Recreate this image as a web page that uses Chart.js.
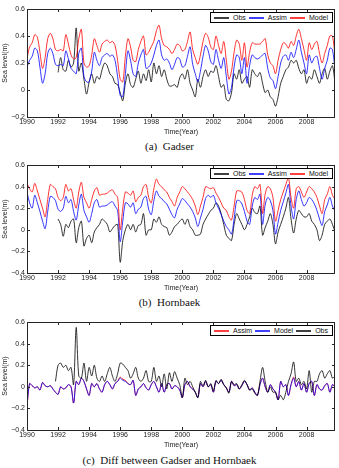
<!DOCTYPE html>
<html>
<head>
<meta charset="utf-8">
<script src="https://cdn.jsdelivr.net/npm/chart.js@4.4.1/dist/chart.umd.min.js"></script>
<style>
body { margin: 0; width: 339px; height: 468px; position: relative; background: #fff; overflow: hidden; }
canvas { position: absolute; left: 0; }
.caption { position: absolute; left: 0; width: 339px; text-align: center; font-family: 'Liberation Serif', serif; font-size: 11px; line-height: 12px; color: #111; }
.legend { position: absolute; right: 6px; height: 9px; padding: 0 1px 0 3px; border: 1px solid #000; background: #fff;
    font-family: 'Liberation Sans', Arial, sans-serif; font-size: 7px; line-height: 9px; color: #111; white-space: nowrap; }
.legend .item { display: inline-block; margin-right: 3px; }
.legend .swatch { display: inline-block; width: 15px; height: 2px; margin-right: 4px; vertical-align: middle; opacity: 0.75; }
</style>
</head>
<body>
<canvas id="gadser-chart" width="339" height="136" style="top:0px"></canvas>
<div class="legend" id="gadser-legend" style="top:12px"></div>
<div class="caption" style="top:140px">(a)&nbsp; Gadser</div>
<canvas id="hornbaek-chart" width="339" height="136" style="top:156px"></canvas>
<div class="legend" id="hornbaek-legend" style="top:168px"></div>
<div class="caption" style="top:296px">(b)&nbsp; Hornbaek</div>
<canvas id="diff-chart" width="339" height="136" style="top:313px"></canvas>
<div class="legend" id="diff-legend" style="top:325px"></div>
<div class="caption" style="top:454px">(c)&nbsp; Diff between Gadser and Hornbaek</div>
<script>
// two-monthly values, 1990.0 ... 2009.83 (6 per year)
const startYear = 1990;
const stepYear = 1 / 6;
const xTicks = [1990, 1992, 1994, 1996, 1998, 2000, 2002, 2004, 2006, 2008];

const gadserObs = [
    null, null, null, null, null, null,
    null, null, null, null, null, null,
    0.13, 0.24, 0.15, 0.14, 0.22, 0.17,
    0.20, 0.46, 0.14, 0.20, 0.08, -0.03,
    0.06, 0.12, 0.05, 0.10, 0.08, 0.15,
    0.20, 0.18, 0.12, 0.10, 0.05, 0.04,
    -0.02, -0.08, 0.05, 0.12, 0.04, 0.02,
    0.08, 0.14, 0.05, 0.12, 0.07, 0.15,
    0.06, 0.20, 0.12, 0.18, 0.10, 0.15,
    0.08, 0.03, 0.03, 0.04, 0.02, 0.09,
    0.12, 0.08, 0.15, 0.05, 0.00, -0.05,
    0.08, 0.02, 0.10, 0.15, 0.10, 0.14,
    0.13, 0.18, 0.10, 0.02, 0.04, -0.07,
    -0.08, -0.02, 0.12, 0.08, 0.15, 0.05,
    0.08, 0.10, 0.02, 0.15, 0.12, 0.10,
    0.13, 0.05, -0.02, 0.00, -0.05, -0.07,
    -0.12, -0.05, 0.05, 0.10, 0.15, 0.17,
    0.22, 0.20, 0.22, 0.16, 0.12, 0.15,
    0.05, 0.10, 0.08, 0.15, 0.10, 0.05,
    0.12, 0.16, 0.08, 0.14, 0.18, 0.05
];
const gadserAssim = [
    0.17, 0.22, 0.25, 0.31, 0.29, 0.17,
    0.05, 0.12, 0.27, 0.31, 0.27, 0.19,
    0.18, 0.19, 0.18, 0.29, 0.23, 0.16,
    0.14, 0.12, 0.27, 0.31, 0.10, 0.06,
    0.06, 0.14, 0.28, 0.22, 0.18, 0.24,
    0.26, 0.27, 0.25, 0.26, 0.22, 0.10,
    -0.04, -0.05, 0.12, 0.29, 0.22, 0.12,
    0.10, 0.20, 0.26, 0.30, 0.16, 0.17,
    0.20, 0.26, 0.33, 0.37, 0.26, 0.22,
    0.23, 0.20, 0.15, 0.19, 0.24, 0.23,
    0.17, 0.18, 0.25, 0.32, 0.19, 0.12,
    0.06, 0.14, 0.25, 0.33, 0.29, 0.21,
    0.19, 0.30, 0.22, 0.16, 0.24, 0.10,
    -0.03, 0.02, 0.17, 0.26, 0.24, 0.12,
    0.24, 0.05, 0.18, 0.26, 0.24, 0.23,
    0.24, 0.26, 0.27, 0.16, 0.09, 0.07,
    0.01, 0.10, 0.20, 0.25, 0.26, 0.22,
    0.28, 0.24, 0.30, 0.37, 0.28, 0.20,
    0.12, 0.26, 0.20, 0.24, 0.25, 0.16,
    0.08, 0.16, 0.22, 0.31, 0.30, 0.14
];
const gadserModel = [
    0.23, 0.32, 0.35, 0.41, 0.39, 0.28,
    0.16, 0.24, 0.38, 0.42, 0.38, 0.30,
    0.29, 0.30, 0.29, 0.41, 0.34, 0.26,
    0.23, 0.24, 0.38, 0.45, 0.20, 0.17,
    0.18, 0.26, 0.38, 0.33, 0.28, 0.34,
    0.36, 0.37, 0.35, 0.36, 0.33, 0.22,
    0.08, 0.06, 0.25, 0.38, 0.32, 0.22,
    0.21, 0.30, 0.36, 0.40, 0.26, 0.28,
    0.32, 0.36, 0.44, 0.48, 0.38, 0.33,
    0.32, 0.30, 0.27, 0.30, 0.34, 0.33,
    0.29, 0.30, 0.36, 0.43, 0.30, 0.24,
    0.19, 0.26, 0.36, 0.42, 0.39, 0.32,
    0.30, 0.40, 0.33, 0.27, 0.36, 0.22,
    0.08, 0.14, 0.28, 0.37, 0.34, 0.22,
    0.35, 0.17, 0.28, 0.35, 0.34, 0.34,
    0.34, 0.36, 0.38, 0.26, 0.20, 0.18,
    0.12, 0.22, 0.30, 0.35, 0.34, 0.31,
    0.36, 0.33, 0.40, 0.45, 0.38, 0.30,
    0.22, 0.35, 0.30, 0.34, 0.36, 0.27,
    0.20, 0.27, 0.33, 0.40, 0.40, 0.25
];

const hornbaekObs = [
    null, null, null, null, null, null,
    null, null, null, null, null, null,
    0.10, 0.05, -0.06, 0.05, 0.02, 0.08,
    0.10, -0.12, 0.02, 0.08, -0.15, -0.08,
    -0.05, -0.12, -0.02, 0.02, 0.05, 0.10,
    0.08, 0.05, -0.02, 0.01, 0.04, 0.05,
    -0.30, -0.10, 0.00, 0.05, 0.00, 0.05,
    -0.02, 0.04, 0.05, 0.15, -0.05, 0.00,
    0.00, 0.10, 0.07, 0.12, 0.05, 0.03,
    0.02, -0.05, -0.02, 0.03, 0.05, 0.08,
    0.10, 0.05, 0.10, 0.03, 0.00, -0.05,
    -0.05, -0.04, 0.05, 0.10, 0.14, 0.18,
    0.20, 0.25, 0.22, 0.15, 0.05, -0.05,
    -0.08, -0.10, 0.05, 0.15, 0.10, 0.05,
    0.00, 0.05, 0.12, 0.20, 0.16, 0.15,
    0.22, -0.05, 0.02, 0.08, 0.15, 0.05,
    -0.13, -0.02, 0.05, 0.12, 0.20, 0.30,
    0.10, -0.03, 0.10, 0.18, 0.15, 0.12,
    0.12, 0.15, 0.08, 0.05, 0.00, -0.10,
    -0.05, 0.05, 0.08, 0.10, 0.05, -0.02
];
const hornbaekAssim = [
    0.35, 0.25, 0.20, 0.32, 0.25, 0.17,
    0.08, 0.01, 0.17, 0.31, 0.30, 0.27,
    0.19, 0.17, 0.20, 0.31, 0.25, 0.28,
    0.17, 0.09, 0.23, 0.33, 0.18, 0.12,
    0.07, 0.15, 0.25, 0.28, 0.21, 0.22,
    0.22, 0.23, 0.25, 0.26, 0.22, 0.18,
    -0.11, 0.08, 0.25, 0.24, 0.21, 0.25,
    0.15, 0.19, 0.21, 0.29, 0.31, 0.19,
    0.14, 0.27, 0.36, 0.31, 0.29, 0.26,
    0.24, 0.19, 0.14, 0.11, 0.19, 0.24,
    0.29, 0.27, 0.24, 0.21, 0.17, 0.11,
    0.03, 0.11, 0.19, 0.29, 0.32, 0.30,
    0.32, 0.25, 0.20, 0.14, 0.08, 0.03,
    0.00, -0.04, 0.10, 0.27, 0.27, 0.24,
    0.17, 0.08, 0.05, 0.22, 0.30, 0.28,
    0.33, 0.05, 0.23, 0.30, 0.27, 0.18,
    -0.04, 0.07, 0.18, 0.26, 0.34, 0.42,
    0.22, 0.10, 0.28, 0.36, 0.28, 0.22,
    0.25, 0.30, 0.28, 0.24, 0.18, 0.10,
    0.04, 0.17, 0.23, 0.30, 0.22, 0.17
];
const hornbaekModel = [
    0.43, 0.38, 0.35, 0.43, 0.36, 0.28,
    0.20, 0.12, 0.28, 0.42, 0.40, 0.38,
    0.30, 0.27, 0.30, 0.42, 0.36, 0.38,
    0.28, 0.20, 0.35, 0.44, 0.30, 0.25,
    0.20, 0.28, 0.36, 0.39, 0.32, 0.33,
    0.33, 0.34, 0.36, 0.37, 0.33, 0.30,
    0.00, 0.20, 0.35, 0.34, 0.32, 0.36,
    0.26, 0.30, 0.32, 0.40, 0.42, 0.30,
    0.25, 0.38, 0.47, 0.42, 0.40, 0.37,
    0.35, 0.30, 0.26, 0.22, 0.30, 0.35,
    0.40, 0.38, 0.35, 0.32, 0.28, 0.22,
    0.14, 0.22, 0.30, 0.40, 0.39, 0.38,
    0.39, 0.34, 0.30, 0.25, 0.20, 0.18,
    0.12, 0.09, 0.22, 0.36, 0.36, 0.35,
    0.28, 0.18, 0.15, 0.32, 0.40, 0.38,
    0.42, 0.15, 0.33, 0.40, 0.38, 0.30,
    0.08, 0.18, 0.28, 0.35, 0.42, 0.48,
    0.30, 0.20, 0.38, 0.40, 0.35, 0.30,
    0.35, 0.40, 0.38, 0.35, 0.30, 0.22,
    0.15, 0.28, 0.33, 0.40, 0.32, 0.28
];

const diffAssim = [
    -0.18, 0.03, 0.01, -0.01, 0.00, -0.03,
    0.04, 0.01, 0.00, 0.01, -0.02, -0.05,
    -0.07, 0.00, -0.02, -0.01, 0.02, 0.00,
    -0.15, 0.05, 0.02, 0.08, 0.05, -0.02,
    -0.08, 0.03, 0.00, 0.03, -0.02, -0.05,
    0.02, 0.05, 0.02, -0.02, 0.03, 0.05,
    0.09, 0.07, 0.06, 0.03, 0.02, 0.06,
    -0.08, -0.02, 0.00, 0.03, -0.01, -0.03,
    0.02, 0.05, 0.00, -0.05, 0.03, -0.05,
    0.02, 0.03, -0.02, 0.01, 0.00, -0.03,
    -0.10, 0.02, 0.05, 0.00, -0.02, -0.05,
    -0.10, 0.03, 0.00, 0.05, 0.00, 0.02,
    -0.05, 0.05, 0.03, 0.06, 0.02, -0.01,
    -0.05, 0.05, 0.01, 0.02, -0.02, 0.01,
    0.05, 0.02, -0.03, -0.01, -0.05, -0.08,
    0.02, 0.08, 0.00, -0.05, 0.02, -0.02,
    -0.05, -0.12, 0.05, 0.00, 0.02, -0.08,
    0.02, 0.09, 0.00, 0.05, -0.03, 0.03,
    -0.05, 0.03, 0.05, -0.08, 0.02, -0.02,
    -0.03, 0.01, 0.03, -0.05, 0.02, 0.00
];
const diffModel = [
    -0.18, 0.03, 0.01, -0.01, 0.00, -0.03,
    0.04, 0.01, 0.00, 0.01, -0.02, -0.05,
    -0.07, 0.00, -0.02, -0.01, 0.02, 0.00,
    -0.15, 0.05, 0.02, 0.08, 0.05, -0.02,
    -0.08, 0.03, 0.00, 0.03, -0.02, -0.05,
    0.02, 0.05, 0.02, -0.02, 0.03, 0.05,
    0.08, 0.06, 0.05, 0.03, 0.02, 0.06,
    -0.08, -0.02, 0.00, 0.03, -0.01, -0.03,
    0.02, 0.05, 0.00, -0.05, 0.03, -0.05,
    0.02, 0.03, -0.02, 0.01, 0.00, -0.03,
    -0.10, 0.02, 0.05, 0.00, -0.02, -0.05,
    -0.10, 0.03, 0.00, 0.05, 0.00, 0.02,
    -0.05, 0.05, 0.03, 0.06, 0.02, -0.01,
    -0.05, 0.05, 0.01, 0.02, -0.02, 0.01,
    0.05, 0.02, -0.03, -0.01, -0.05, -0.08,
    0.02, 0.08, 0.00, -0.05, 0.02, -0.02,
    -0.05, -0.12, 0.05, 0.00, 0.02, -0.08,
    0.02, 0.08, 0.00, 0.05, -0.03, 0.03,
    -0.05, 0.03, 0.05, -0.08, 0.02, -0.02,
    -0.03, 0.01, 0.03, -0.05, 0.02, 0.00
];
const diffObs = [
    null, null, null, null, null, null,
    null, null, null, null, null, 0.05,
    0.20, 0.22, 0.18, 0.20, 0.15, 0.18,
    0.02, 0.55, 0.10, 0.08, 0.22, 0.05,
    0.18, 0.10, 0.20, 0.08, 0.05, 0.10,
    0.05, 0.12, 0.18, 0.10, 0.05, 0.12,
    0.22, 0.21, 0.18, 0.15, 0.08, 0.12,
    0.18, 0.08, 0.05, 0.08, 0.15, 0.05,
    0.05, 0.18, 0.05, 0.10, 0.00, 0.12,
    -0.02, 0.13, 0.05, 0.14, 0.08, 0.02,
    -0.10, 0.08, 0.02, 0.05, 0.00, -0.05,
    -0.10, 0.05, 0.01, 0.06, 0.00, 0.03,
    -0.04, 0.06, 0.03, 0.07, 0.02, -0.01,
    -0.06, 0.05, 0.02, 0.03, -0.02, 0.02,
    0.06, 0.02, -0.03, -0.02, -0.06, -0.08,
    0.05, 0.18, 0.05, -0.05, 0.00, -0.05,
    -0.05, -0.12, -0.08, -0.12, -0.05, 0.05,
    0.12, 0.23, 0.05, 0.08, 0.02, 0.05,
    -0.02, 0.15, -0.05, 0.05, 0.05, 0.12,
    0.15, 0.08, 0.12, 0.15, 0.08, 0.10
];

const obsColor = '#000000';
const assimColor = '#0000ff';
const modelColor = '#ff0000';
const tickFont = { family: "'Liberation Sans', Arial, sans-serif", size: 7 };

const toPoints = values => values.map((v, i) => ({ x: startYear + i * stepYear, y: v }));

const fmtY = v => {
    if (Math.abs(v) < 1e-9) return '0';
    return (v < 0 ? '\u2212' : '') + Math.abs(v).toFixed(1);
};

// matlab style axes box with inward ticks
const matlabBox = {
    id: 'matlabBox',
    afterDraw(chart) {
        const { ctx, chartArea: a, scales } = chart;
        ctx.save();
        ctx.strokeStyle = '#262626';
        ctx.lineWidth = 1;
        ctx.beginPath();
        xTicks.forEach(t => {
            const px = Math.round(scales.x.getPixelForValue(t)) + 0.5;
            ctx.moveTo(px, a.bottom); ctx.lineTo(px, a.bottom - 3);
            ctx.moveTo(px, a.top); ctx.lineTo(px, a.top + 3);
        });
        scales.y.ticks.forEach(t => {
            const py = Math.round(scales.y.getPixelForValue(t.value)) + 0.5;
            ctx.moveTo(a.left, py); ctx.lineTo(a.left + 3, py);
            ctx.moveTo(a.right, py); ctx.lineTo(a.right - 3, py);
        });
        ctx.stroke();
        ctx.strokeRect(Math.round(a.left) + 0.5, Math.round(a.top) + 0.5,
            Math.round(a.right - a.left) - 1, Math.round(a.bottom - a.top));
        ctx.restore();
    }
};

const buildLegend = (legendId, datasets, order) => {
    const box = document.getElementById(legendId);
    box.innerHTML = order.map(name => {
        const ds = datasets.find(d => d.label === name);
        return `<span class="item"><span class="swatch" style="background:${ds.borderColor}"></span>${name}</span>`;
    }).join('');
};

const makeChart = (canvasId, datasets, yMin) => new Chart(document.getElementById(canvasId), {
    type: 'line',
    data: { datasets },
    plugins: [matlabBox],
    options: {
        responsive: false,
        animation: false,
        devicePixelRatio: 1,
        layout: { padding: { top: 9, right: 4, left: 0, bottom: 0 } },
        elements: { point: { radius: 0 }, line: { borderWidth: 0.8, tension: 0.3 } },
        scales: {
            x: {
                type: 'linear',
                min: 1990,
                max: 2009.83,
                afterFit: s => { s.height = 19; },
                grid: { display: false, drawTicks: false },
                border: { display: false },
                ticks: {
                    stepSize: 2,
                    includeBounds: false,
                    autoSkip: false,
                    maxRotation: 0,
                    padding: 1,
                    color: '#222',
                    font: tickFont,
                    callback: v => String(v)
                },
                title: { display: true, text: 'Time(Year)', color: '#222', font: tickFont, padding: { top: 2, bottom: 0 } }
            },
            y: {
                min: yMin,
                max: 0.6,
                afterFit: s => { s.width = 27; },
                grid: { display: false, drawTicks: false },
                border: { display: false },
                ticks: { stepSize: 0.2, padding: 2, color: '#222', font: tickFont, callback: fmtY },
                title: { display: true, text: 'Sea level(m)', color: '#222', font: tickFont, padding: { top: 1, bottom: 0 } }
            }
        },
        plugins: {
            legend: { display: false },
            tooltip: { enabled: false }
        }
    }
});

const line = (label, values, color) => ({ label, data: toPoints(values), borderColor: color, spanGaps: false });

const gadserSets = [
    line('Model', gadserModel, modelColor),
    line('Assim', gadserAssim, assimColor),
    line('Obs', gadserObs, obsColor)
];
const hornbaekSets = [
    line('Model', hornbaekModel, modelColor),
    line('Assim', hornbaekAssim, assimColor),
    line('Obs', hornbaekObs, obsColor)
];
// in the diff panel Assim is red and Model is blue, drawn over it
const diffSets = [
    line('Obs', diffObs, obsColor),
    line('Model', diffModel, assimColor),
    line('Assim', diffAssim, modelColor)
];

buildLegend('gadser-legend', gadserSets, ['Obs', 'Assim', 'Model']);
buildLegend('hornbaek-legend', hornbaekSets, ['Obs', 'Assim', 'Model']);
buildLegend('diff-legend', diffSets, ['Assim', 'Model', 'Obs']);

let gadserChart = makeChart('gadser-chart', gadserSets, -0.2);
let hornbaekChart = makeChart('hornbaek-chart', hornbaekSets, -0.4);
let diffChart = makeChart('diff-chart', diffSets, -0.4);
</script>
</body>
</html>
